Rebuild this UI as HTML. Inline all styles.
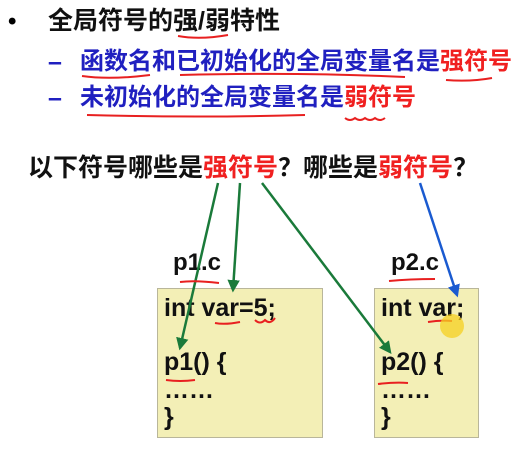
<!DOCTYPE html>
<html><head><meta charset="utf-8"><style>
body{margin:0;width:517px;height:449px;background:#fff;position:relative;overflow:hidden;font-family:"Liberation Sans","Noto Sans CJK SC",sans-serif;font-weight:bold}
.t{position:absolute;white-space:nowrap;line-height:1}
.box{position:absolute;background:#f3efb6;border:1px solid #b9b69a}
.code{position:absolute;font-size:25px;color:#111;line-height:1;white-space:nowrap}
</style></head><body>
<div class="t" style="left:8px;top:10px;font-size:24px">•</div>
<div class="t" style="left:48px;top:9px;font-size:25px;color:#111">全局符号的强/弱特性</div>
<div class="t" style="left:48px;top:50px;font-size:25px;color:#2020c0">–</div>
<div class="t" style="left:80px;top:50px;font-size:24px;color:#2020c0">函数名和已初始化的全局变量名是<span style="color:#f02020">强符号</span></div>
<div class="t" style="left:48px;top:86px;font-size:25px;color:#2020c0">–</div>
<div class="t" style="left:80px;top:86px;font-size:24px;color:#2020c0">未初始化的全局变量名是<span style="color:#f02020">弱符号</span></div>
<div class="t" style="left:28px;top:156px;font-size:25px;color:#111">以下符号哪些是<span style="color:#f02020">强符号</span>？哪些是<span style="color:#f02020">弱符号</span>？</div>
<div class="t" style="left:173px;top:251px;font-size:24px;color:#111">p1.c</div>
<div class="t" style="left:391px;top:251px;font-size:24px;color:#111">p2.c</div>
<div class="box" style="left:157px;top:288px;width:164px;height:148px"></div>
<div class="box" style="left:374px;top:288px;width:103px;height:148px"></div>
<div class="code" style="left:164px;top:296px">int var=5;</div>
<div class="code" style="left:164px;top:350px">p1() {</div>
<div class="code" style="left:164px;top:378px">……</div>
<div class="code" style="left:164px;top:405px">}</div>
<div class="code" style="left:381px;top:296px">int var;</div>
<div class="code" style="left:381px;top:350px">p2() {</div>
<div class="code" style="left:381px;top:378px">……</div>
<div class="code" style="left:381px;top:405px">}</div>
<svg width="517" height="449" style="position:absolute;left:0;top:0">
<defs>
<marker id="g" markerWidth="5" markerHeight="5" refX="4" refY="2.5" orient="auto"><path d="M0,0L5,2.5L0,5z" fill="#1a7a3a"/></marker>
<marker id="b" markerWidth="5" markerHeight="5" refX="4" refY="2.5" orient="auto"><path d="M0,0L5,2.5L0,5z" fill="#1a5ad0"/></marker>
</defs>
<g stroke="#1a7a3a" stroke-width="2.5" fill="none">
<line x1="218" y1="183" x2="180" y2="348" marker-end="url(#g)"/>
<line x1="240" y1="183" x2="233" y2="290" marker-end="url(#g)"/>
<line x1="262" y1="183" x2="390" y2="352" marker-end="url(#g)"/>
</g>
<line x1="420" y1="183" x2="457" y2="295" stroke="#1a5ad0" stroke-width="2.5" marker-end="url(#b)"/>
<g stroke="#e82020" stroke-width="2" fill="none">
<path d="M178,36 Q200,40 228,35"/>
<path d="M82,76 Q110,80 150,75"/>
<path d="M180,75 Q300,72 405,77"/>
<path d="M446,80 Q470,82 492,78"/>
<path d="M87,115 Q200,118 305,115"/>
<path d="M345,118 q5,4 10,0 q5,4 10,0 q5,4 10,0 q5,4 10,0"/>
<path d="M180,282 Q195,280 219,283"/>
<path d="M215,323 Q225,325 240,322"/>
<path d="M255,320 q5,5 10,0 q5,5 10,-2"/>
<path d="M166,380 Q180,382 195,380"/>
<path d="M389,281 Q410,279 435,279"/>
<path d="M428,322 Q440,320 452,321"/>
<path d="M378,384 Q395,382 408,383"/>
</g>
<circle cx="452" cy="326" r="12" fill="#f5d020" opacity="0.75"/>
</svg>
</body></html>
